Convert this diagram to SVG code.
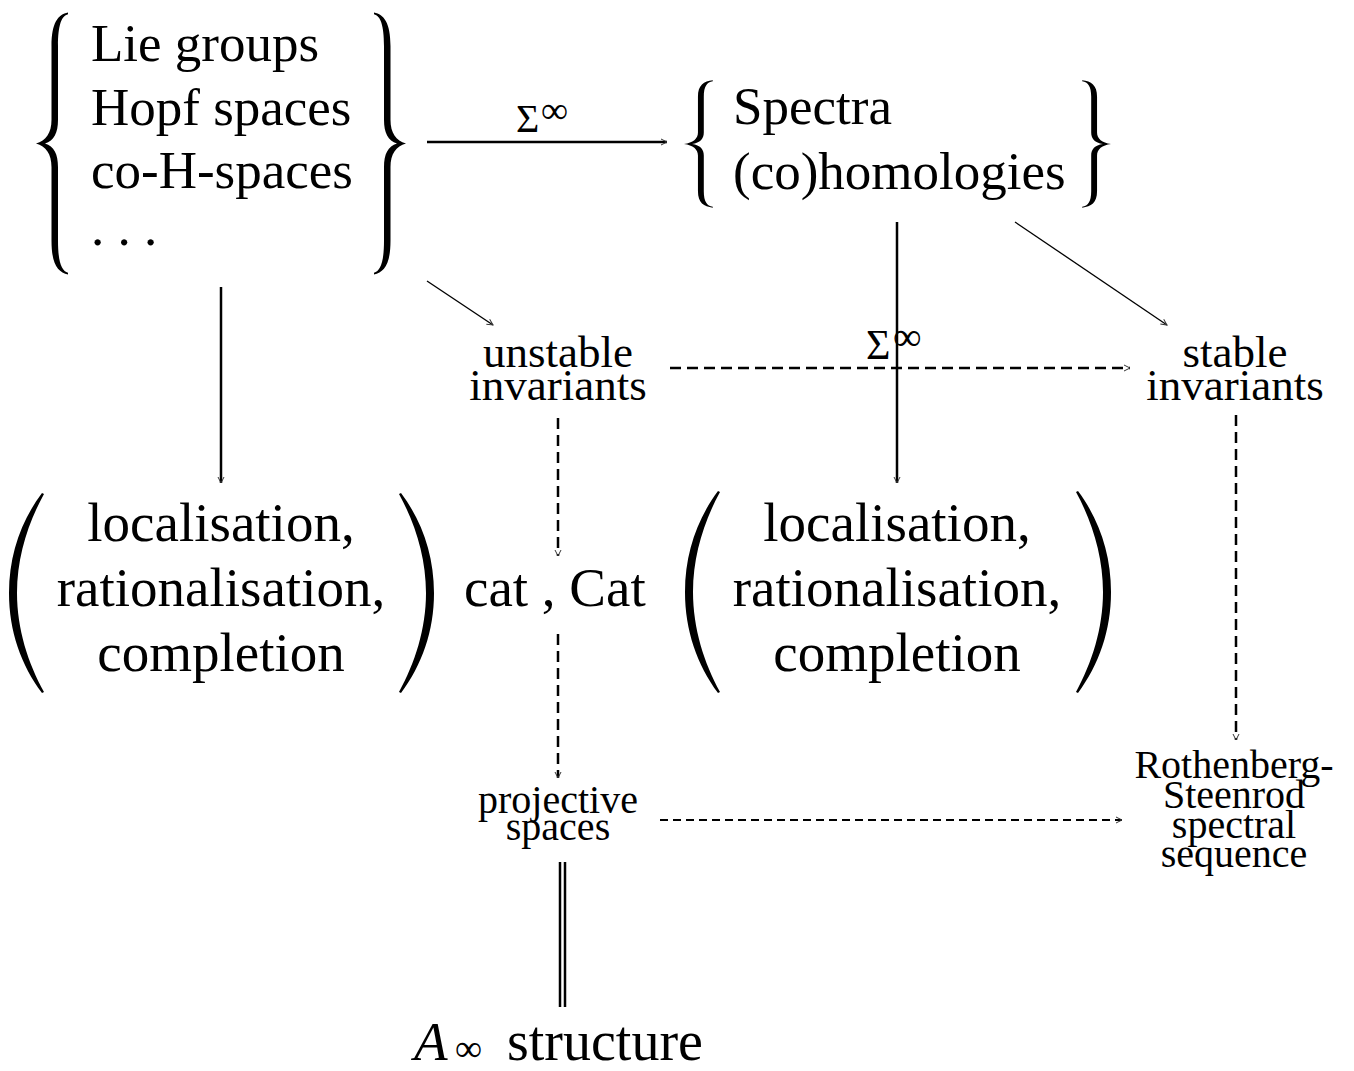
<svg xmlns="http://www.w3.org/2000/svg" width="1354" height="1071" viewBox="0 0 1354 1071">
<style>
text{font-family:"Liberation Serif","Times New Roman",serif;fill:#000}
.big{font-size:53px}
.loc{font-size:55px;text-anchor:middle}
.mid{font-size:45px;text-anchor:middle}
.sm{font-size:40px;text-anchor:middle}
.solid{stroke:#000;stroke-width:2.5;fill:none}
.thin{stroke:#000;stroke-width:1.3;fill:none}
.dash{stroke:#000;stroke-width:2.5;fill:none;stroke-dasharray:11 6}
.dash2{stroke:#000;stroke-width:2;fill:none;stroke-dasharray:8 5}
.delim{fill:#000}
</style>
<defs>
<marker id="ah" markerUnits="userSpaceOnUse" markerWidth="12" markerHeight="10" refX="0" refY="0" viewBox="-8 -5 10 10" orient="auto" overflow="visible">
<path d="M-6,-3 L0,0 L-6,3" fill="none" stroke="#333" stroke-width="1"/>
</marker>
<path id="lbrace" d="M32,0.2 C22,1 15.5,4 15.5,13 L15.5,41 C15.5,46 10,49 0,50 C10,51 15.5,54 15.5,59 L15.5,87 C15.5,96 22,99 32,99.8 L32,99.1 C25.5,98.5 22,95 22,87 L22,59 C22,54 18,51 9,50 C18,49 22,46 22,41 L22,13 C22,5 25.5,1.5 32,0.9 Z"/>
<path id="lparen" d="M33,0 C12,28 0,62 0,100 C0,138 12,172 33,200 L35,199 C19,170 8,136 8,100 C8,64 19,30 35,1 Z"/>
</defs>
<rect width="1354" height="1071" fill="#fff"/>

<g id="connectors">
<line class="solid" x1="427" y1="142" x2="667" y2="142" stroke-width="2" marker-end="url(#ah)"/>
<line class="solid" x1="221" y1="287" x2="221" y2="483" marker-end="url(#ah)"/>
<line class="solid" x1="897" y1="222" x2="897" y2="483" marker-end="url(#ah)"/>
<line class="thin" x1="427" y1="281" x2="493" y2="325" marker-end="url(#ah)"/>
<line class="thin" x1="1015" y1="222" x2="1167" y2="325" marker-end="url(#ah)"/>
<line class="dash" x1="670" y1="368" x2="1130" y2="368" marker-end="url(#ah)"/>
<line class="dash" x1="558" y1="418" x2="558" y2="556" marker-end="url(#ah)"/>
<line class="dash" x1="1236" y1="415" x2="1236" y2="740" marker-end="url(#ah)"/>
<line class="dash" x1="558" y1="634" x2="558" y2="778" marker-end="url(#ah)"/>
<line class="dash2" x1="660" y1="820" x2="1122" y2="820" marker-end="url(#ah)"/>
<line class="solid" x1="560" y1="862" x2="560" y2="1007"/>
<line class="solid" x1="565" y1="862" x2="565" y2="1007"/>
<g id="label-sigma-top"><text x="516" y="132" font-size="40">Σ</text><text x="541" y="123" font-size="38">∞</text></g>
<g id="label-sigma-mid"><text x="866" y="359" font-size="42">Σ</text><text x="893" y="350" font-size="40">∞</text></g>
</g>

<g id="node-groups">
<use href="#lbrace" class="delim" transform="translate(36,12) scale(1,2.63)"/>
<use href="#lbrace" class="delim" transform="translate(406,12) scale(-1,2.63)"/>
<text class="big" x="91" y="61">Lie groups</text>
<text class="big" x="91" y="125">Hopf spaces</text>
<text class="big" x="91" y="188">co-H-spaces</text>
<text class="big" x="91" y="245">. . .</text>
</g>

<g id="node-spectra">
<use href="#lbrace" class="delim" transform="translate(684,80) scale(0.9,1.28)"/>
<use href="#lbrace" class="delim" transform="translate(1111,80) scale(-0.9,1.28)"/>
<text class="big" x="733" y="124">Spectra</text>
<text class="big" x="733" y="189">(co)homologies</text>
</g>

<g id="node-unstable">
<text class="mid" x="558" y="367">unstable</text>
<text class="mid" x="558" y="400">invariants</text>
</g>

<g id="node-stable">
<text class="mid" x="1235" y="367">stable</text>
<text class="mid" x="1235" y="400">invariants</text>
</g>

<g id="node-loc-left">
<use href="#lparen" class="delim" transform="translate(9,493)"/>
<use href="#lparen" class="delim" transform="translate(434,493) scale(-1,1)"/>
<text class="loc" x="221" y="541">localisation,</text>
<text class="loc" x="221" y="606">rationalisation,</text>
<text class="loc" x="221" y="671">completion</text>
</g>

<g id="node-cat">
<text x="464" y="606" font-size="55">cat , Cat</text>
</g>

<g id="node-loc-right">
<use href="#lparen" class="delim" transform="translate(685,491) scale(1,1.01)"/>
<use href="#lparen" class="delim" transform="translate(1111,491) scale(-1,1.01)"/>
<text class="loc" x="897" y="541">localisation,</text>
<text class="loc" x="897" y="606">rationalisation,</text>
<text class="loc" x="897" y="671">completion</text>
</g>

<g id="node-projective">
<text class="sm" x="558" y="813">projective</text>
<text class="sm" x="558" y="840">spaces</text>
</g>

<g id="node-rs">
<text class="sm" x="1234" y="778">Rothenberg-</text>
<text class="sm" x="1234" y="808">Steenrod</text>
<text class="sm" x="1234" y="838">spectral</text>
<text class="sm" x="1234" y="867">sequence</text>
</g>

<g id="node-ainf">
<text x="414" y="1060" font-size="55" font-style="italic">A</text>
<text x="455" y="1061" font-size="38">∞</text>
<text x="507" y="1060" font-size="56">structure</text>
</g>
</svg>
